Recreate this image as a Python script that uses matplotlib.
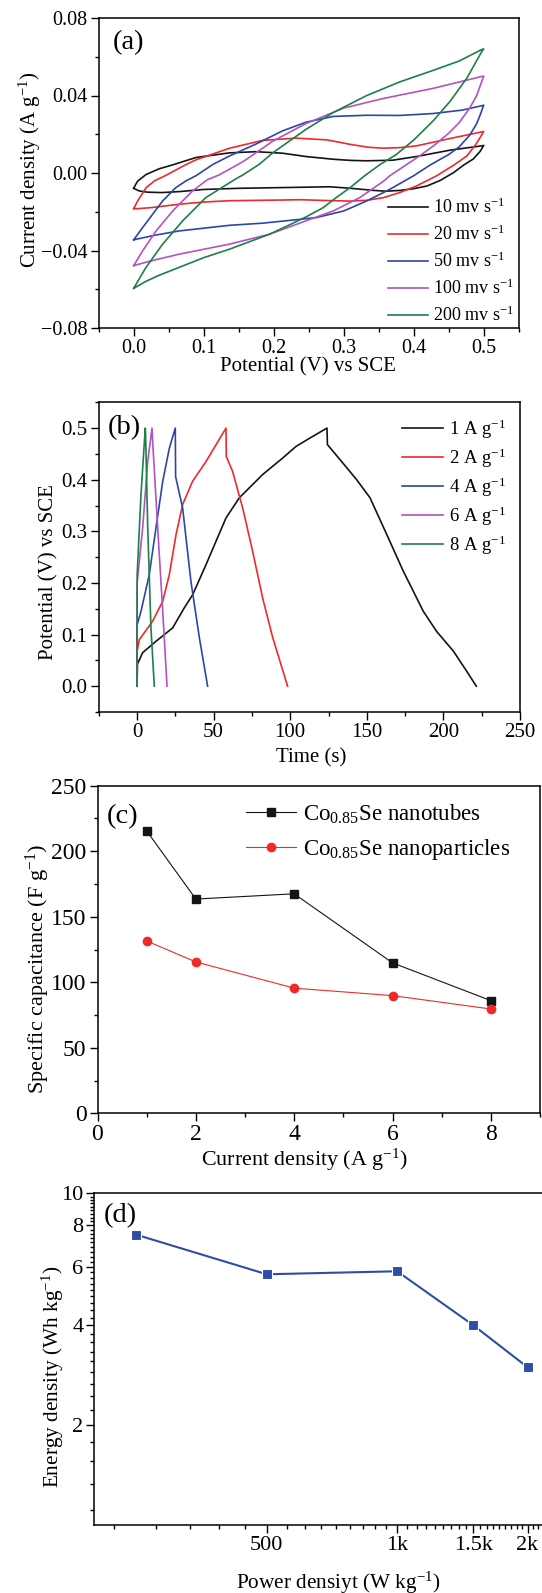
import matplotlib
matplotlib.use('Agg')
import matplotlib.pyplot as plt
from matplotlib.ticker import MultipleLocator, NullFormatter

plt.rcParams['font.family'] = ['Liberation Serif', 'DejaVu Serif']
plt.rcParams['mathtext.fontset'] = 'custom'
plt.rcParams['mathtext.rm'] = 'Liberation Serif'
plt.rcParams['mathtext.it'] = 'Liberation Serif:italic'
plt.rcParams['mathtext.default'] = 'regular'

# ---------------- data: (a) CV curves ----------------
cv_labels = ['10 mv s$^{-1}$', '20 mv s$^{-1}$', '50 mv s$^{-1}$', '100 mv s$^{-1}$', '200 mv s$^{-1}$']
cv_colors = ['#141414', '#ee2a2a', '#2e45a8', '#b352c2', '#1c8048']

cv10_up_v = [0, 0.003, 0.0057, 0.0176, 0.0366, 0.0557, 0.089, 0.137, 0.175, 0.213, 0.246, 0.285, 0.31, 0.333, 0.37, 0.404, 0.452, 0.497, 0.5]
cv10_up_i = [-0.0079, -0.0058, -0.0042, -0.0008, 0.0022, 0.0042, 0.0080, 0.0104, 0.0110, 0.0102, 0.0085, 0.0071, 0.0065, 0.0063, 0.0066, 0.0085, 0.0118, 0.0140, 0.0142]
cv10_dn_v = [0.5, 0.495, 0.485, 0.471, 0.457, 0.438, 0.419, 0.40, 0.38, 0.36, 0.34, 0.31, 0.28, 0.25, 0.2, 0.15, 0.1, 0.065, 0.04, 0.02, 0.008, 0]
cv10_dn_i = [0.0142, 0.0112, 0.0072, 0.0040, 0.0002, -0.0038, -0.0067, -0.0081, -0.0090, -0.0094, -0.0089, -0.0079, -0.0071, -0.0073, -0.0076, -0.0079, -0.0085, -0.0096, -0.0101, -0.0099, -0.0093, -0.0079]

cv20_up_v = [0, 0.0057, 0.0177, 0.030, 0.046, 0.075, 0.089, 0.137, 0.184, 0.232, 0.276, 0.309, 0.335, 0.357, 0.38, 0.404, 0.452, 0.497, 0.5]
cv20_up_i = [-0.0184, -0.0144, -0.0076, -0.0040, -0.0012, 0.0044, 0.0068, 0.0128, 0.0168, 0.0180, 0.0171, 0.0148, 0.0133, 0.0128, 0.0131, 0.0140, 0.0178, 0.0212, 0.0214]
cv20_dn_v = [0.5, 0.49, 0.476, 0.457, 0.433, 0.404, 0.38, 0.357, 0.333, 0.31, 0.285, 0.238, 0.2, 0.137, 0.1, 0.065, 0.027, 0.006, 0]
cv20_dn_i = [0.0214, 0.0154, 0.0088, 0.0040, -0.0014, -0.0067, -0.0101, -0.0127, -0.0141, -0.0145, -0.0143, -0.0138, -0.0140, -0.0143, -0.0150, -0.0161, -0.0178, -0.0184, -0.0184]

cv50_up_v = [0, 0.0129, 0.027, 0.0414, 0.06, 0.075, 0.089, 0.113, 0.137, 0.175, 0.213, 0.246, 0.285, 0.333, 0.38, 0.428, 0.47, 0.497, 0.5]
cv50_up_i = [-0.0345, -0.0281, -0.0213, -0.0144, -0.0076, -0.0040, -0.0014, 0.0044, 0.0088, 0.0150, 0.0218, 0.0262, 0.0292, 0.0298, 0.0297, 0.0307, 0.0325, 0.0347, 0.0350]
cv50_dn_v = [0.5, 0.495, 0.49, 0.48, 0.465, 0.45, 0.44, 0.423, 0.40, 0.366, 0.333, 0.30, 0.261, 0.238, 0.184, 0.137, 0.065, 0.032, 0.006, 0]
cv50_dn_i = [0.0350, 0.0300, 0.0255, 0.0195, 0.0135, 0.0095, 0.0075, 0.0040, -0.0014, -0.0084, -0.0144, -0.0196, -0.0230, -0.0239, -0.0259, -0.0270, -0.0299, -0.0320, -0.0340, -0.0345]

cv100_up_v = [0, 0.0129, 0.032, 0.0557, 0.084, 0.105, 0.122, 0.149, 0.16, 0.199, 0.246, 0.30, 0.357, 0.428, 0.497, 0.5]
cv100_up_i = [-0.0478, -0.0401, -0.0299, -0.0196, -0.0093, -0.0035, -0.0010, 0.0044, 0.0068, 0.0165, 0.0255, 0.0335, 0.0385, 0.0437, 0.0498, 0.0500]
cv100_dn_v = [0.5, 0.495, 0.49, 0.48, 0.465, 0.45, 0.43, 0.41, 0.39, 0.366, 0.357, 0.323, 0.285, 0.246, 0.194, 0.137, 0.065, 0.022, 0]
cv100_dn_i = [0.0500, 0.0450, 0.0400, 0.0335, 0.0260, 0.0205, 0.0145, 0.0092, 0.0044, -0.0014, -0.0042, -0.0127, -0.0196, -0.0247, -0.0316, -0.0367, -0.0419, -0.0456, -0.0478]

cv200_up_v = [0, 0.0176, 0.0414, 0.07, 0.103, 0.146, 0.156, 0.179, 0.199, 0.246, 0.285, 0.333, 0.38, 0.428, 0.465, 0.497, 0.5]
cv200_up_i = [-0.0595, -0.0487, -0.0367, -0.0247, -0.0127, -0.0030, -0.0010, 0.0044, 0.0105, 0.0225, 0.0312, 0.0400, 0.0470, 0.0530, 0.0578, 0.0637, 0.0640]
cv200_dn_v = [0.5, 0.497, 0.49, 0.476, 0.452, 0.428, 0.40, 0.375, 0.352, 0.33, 0.309, 0.29, 0.271, 0.246, 0.22, 0.194, 0.137, 0.1, 0.065, 0.035, 0.0176, 0]
cv200_dn_i = [0.0640, 0.0625, 0.0580, 0.0490, 0.0370, 0.0270, 0.0170, 0.0095, 0.0044, -0.0014, -0.0076, -0.0125, -0.0178, -0.0227, -0.0272, -0.0316, -0.0393, -0.0437, -0.0487, -0.0530, -0.0559, -0.0595]

# ---------------- data: (b) GCD curves ----------------
gcd_labels = ['1 A g$^{-1}$', '2 A g$^{-1}$', '4 A g$^{-1}$', '6 A g$^{-1}$', '8 A g$^{-1}$']
gcd_colors = ['#141414', '#ee2a2a', '#2e45a8', '#b352c2', '#1c8048']
gcd1_t = [0, 0.3, 3.7, 12.4, 23.3, 30.9, 36.3, 45, 51.6, 58.1, 66.8, 82, 95.1, 103.8, 113, 124, 124.3, 132.5, 143.4, 152.1, 163, 173.8, 186.9, 195.6, 206.5, 215.2, 221.5]
gcd1_v = [0, 0.043, 0.065, 0.087, 0.113, 0.152, 0.177, 0.235, 0.281, 0.326, 0.365, 0.41, 0.442, 0.4645, 0.481, 0.5, 0.468, 0.439, 0.400, 0.365, 0.294, 0.223, 0.145, 0.106, 0.068, 0.029, 0]
gcd2_t = [0, 0.1, 1.5, 10.2, 16.8, 21.1, 25.5, 29.8, 36.3, 45, 58.1, 58.3, 62.4, 69, 75.5, 82, 88.6, 98.3]
gcd2_v = [0, 0.068, 0.09, 0.126, 0.1645, 0.216, 0.294, 0.352, 0.397, 0.435, 0.5, 0.445, 0.416, 0.345, 0.261, 0.171, 0.094, 0]
gcd4_t = [0, 0.1, 2.6, 8, 12.4, 16.8, 21.1, 25, 25.2, 29.8, 35.2, 40.7, 46.1]
gcd4_v = [0, 0.119, 0.145, 0.216, 0.307, 0.397, 0.461, 0.5, 0.406, 0.345, 0.203, 0.094, 0]
gcd6_t = [0, 0.1, 3.7, 7, 9.8, 10.3, 13.5, 16.8, 19.6]
gcd6_v = [0, 0.2, 0.307, 0.435, 0.5, 0.47, 0.307, 0.145, 0]
gcd8_t = [0, 0.1, 2.6, 5.4, 5.6, 7, 9.1, 11.3]
gcd8_v = [0, 0.216, 0.371, 0.5, 0.49, 0.307, 0.113, 0]

# ---------------- data: (c) specific capacitance ----------------
cur_density = [1, 2, 4, 6, 8]
cap_nanotubes = [215.5, 163.5, 167.5, 114.8, 86]
cap_nanoparticles = [131.5, 115.5, 95.5, 89.8, 79.6]
cap_labels = ['Co$_{0.85}$Se nanotubes', 'Co$_{0.85}$Se nanoparticles']

# ---------------- data: (d) Ragone ----------------
power_density = [250, 500, 1000, 1500, 2000]
energy_density = [7.5, 5.7, 5.82, 4.0, 2.99]
d_xticks = [500, 1000, 1500, 2000]
d_xticklabels = ['500', '1k', '1.5k', '2k']
d_yticks = [2, 4, 6, 8, 10]

W, H = 542, 1593
fig = plt.figure(figsize=(W / 100, H / 100), dpi=100)


def box(l, r, t, b):
    return [l / W, 1 - b / H, (r - l) / W, (b - t) / H]


def style(ax, fs):
    for s in ax.spines.values():
        s.set_linewidth(1.1)
    ax.tick_params(which='both', direction='out', width=1.0, labelsize=fs, top=False, right=False)
    ax.tick_params(which='major', length=5.5, pad=2.5)
    ax.tick_params(which='minor', length=3.2)


def labels(ax, xl, xpos, yl, ypos, fsx, fsy):
    ax.set_xlabel(xl, fontsize=fsx, va='center', ha='center')
    ax.xaxis.set_label_coords(xpos[0] / W, 1 - xpos[1] / H, transform=fig.transFigure)
    ax.set_ylabel(yl, fontsize=fsy, va='center', ha='center')
    ax.yaxis.set_label_coords(ypos[0] / W, 1 - ypos[1] / H, transform=fig.transFigure)


def panel_tag(txt, x, y):
    fig.text(x / W, 1 - y / H, txt, fontsize=20.5, ha='center', va='center')


# ---------------- (a) ----------------
ax = fig.add_axes(box(98.7, 518.7, 18, 328))
cv_sets = [(cv10_up_v, cv10_up_i, cv10_dn_v, cv10_dn_i),
           (cv20_up_v, cv20_up_i, cv20_dn_v, cv20_dn_i),
           (cv50_up_v, cv50_up_i, cv50_dn_v, cv50_dn_i),
           (cv100_up_v, cv100_up_i, cv100_dn_v, cv100_dn_i),
           (cv200_up_v, cv200_up_i, cv200_dn_v, cv200_dn_i)]
for (uv, ui, dv, di), c, lab in zip(cv_sets, cv_colors, cv_labels):
    ax.plot(uv + dv[1:], ui + di[1:], color=c, lw=1.2, label=lab)
ax.set_xlim(-0.05, 0.55)
ax.set_ylim(-0.08, 0.08)
ax.xaxis.set_minor_locator(MultipleLocator(0.05))
ax.yaxis.set_minor_locator(MultipleLocator(0.02))
ax.set_xticks([0, 0.1, 0.2, 0.3, 0.4, 0.5], ['0.0', '0.1', '0.2', '0.3', '0.4', '0.5'])
ax.set_yticks([-0.08, -0.04, 0, 0.04, 0.08], ['\u22120.08', '\u22120.04', '0.00', '0.04', '0.08'])
style(ax, 14.5)
labels(ax, 'Potential (V) vs SCE', (308, 367), 'Current density (A g$^{-1}$)', (29.5, 170), 15, 15)
ax.legend(loc='upper left', bbox_to_anchor=(388 / W, 1 - 197.5 / H), bbox_transform=fig.transFigure,
          frameon=False, fontsize=13, handlelength=2.2, handletextpad=0.3, labelspacing=0.42,
          borderpad=0, borderaxespad=0)
panel_tag('(a)', 128, 42.5)

# ---------------- (b) ----------------
ax = fig.add_axes(box(98.7, 520, 402.3, 712))
for t, v, c, lab in zip([gcd1_t, gcd2_t, gcd4_t, gcd6_t, gcd8_t], [gcd1_v, gcd2_v, gcd4_v, gcd6_v, gcd8_v],
                        gcd_colors, gcd_labels):
    ax.plot(t, v, color=c, lw=1.2, label=lab)
ax.set_xlim(-25, 250)
ax.set_ylim(-0.05, 0.55)
ax.xaxis.set_major_locator(MultipleLocator(50))
ax.xaxis.set_minor_locator(MultipleLocator(25))
ax.set_yticks([0, 0.1, 0.2, 0.3, 0.4, 0.5], ['0.0', '0.1', '0.2', '0.3', '0.4', '0.5'])
ax.yaxis.set_minor_locator(MultipleLocator(0.05))
style(ax, 15)
labels(ax, 'Time (s)', (311, 758), 'Potential (V) vs SCE', (49, 572), 15, 15)
ax.legend(loc='upper left', bbox_to_anchor=(401.7 / W, 1 - 417.3 / H), bbox_transform=fig.transFigure,
          frameon=False, fontsize=13.5, handlelength=2.2, handletextpad=0.3, labelspacing=0.3,
          borderpad=0, borderaxespad=0)
panel_tag('(b)', 124, 428)

# ---------------- (c) ----------------
ax = fig.add_axes(box(97.5, 540, 785.7, 1113.3))
ax.plot(cur_density, cap_nanotubes, color='#141414', lw=0.8, marker='s', ms=5.5, label=cap_labels[0])
ax.plot(cur_density, cap_nanoparticles, color='#ee2a2a', lw=0.8, marker='o', ms=6, label=cap_labels[1])
ax.set_xlim(0, 9)
ax.set_ylim(0, 250)
ax.set_xticks([0, 2, 4, 6, 8])
ax.xaxis.set_minor_locator(MultipleLocator(1))
ax.yaxis.set_major_locator(MultipleLocator(50))
ax.yaxis.set_minor_locator(MultipleLocator(25))
style(ax, 17)
labels(ax, 'Current density (A g$^{-1}$)', (304, 1160), 'Specific capacitance (F g$^{-1}$)', (38, 969), 15.8, 16)
ax.legend(loc='upper left', bbox_to_anchor=(246 / W, 1 - 802.5 / H), bbox_transform=fig.transFigure,
          frameon=False, fontsize=16.5, handlelength=2.2, handletextpad=0.3, labelspacing=0.48,
          borderpad=0, borderaxespad=0)
panel_tag('(c)', 122.4, 816.5)

# ---------------- (d) ----------------
ax = fig.add_axes(box(94.4, 569.5, 1193.3, 1525))
ax.plot(power_density, energy_density, color='#2d4da6', lw=1.5, marker='s', ms=7.5, mec='white', mew=0.8)
ax.set_xscale('log')
ax.set_yscale('log')
ax.set_xlim(200, 2500)
ax.set_ylim(1, 10)
ax.set_xticks(d_xticks, d_xticklabels)
ax.set_xticks([500 / 9 * k for k in range(4, 45) if k % 9 != 0], minor=True)
ax.xaxis.set_minor_formatter(NullFormatter())
ax.set_yticks(d_yticks, [str(v) for v in d_yticks])
ax.set_yticks([2 / 9 * k for k in range(5, 45) if k % 9 != 0], minor=True)
ax.yaxis.set_minor_formatter(NullFormatter())
style(ax, 16)
labels(ax, 'Power densiyt (W kg$^{-1}$)', (338.8, 1583), 'Energy density (Wh kg$^{-1}$)', (52.7, 1377), 15.3, 15.3)
panel_tag('(d)', 120, 1215.7)

fig.savefig('out.png', dpi=100)
